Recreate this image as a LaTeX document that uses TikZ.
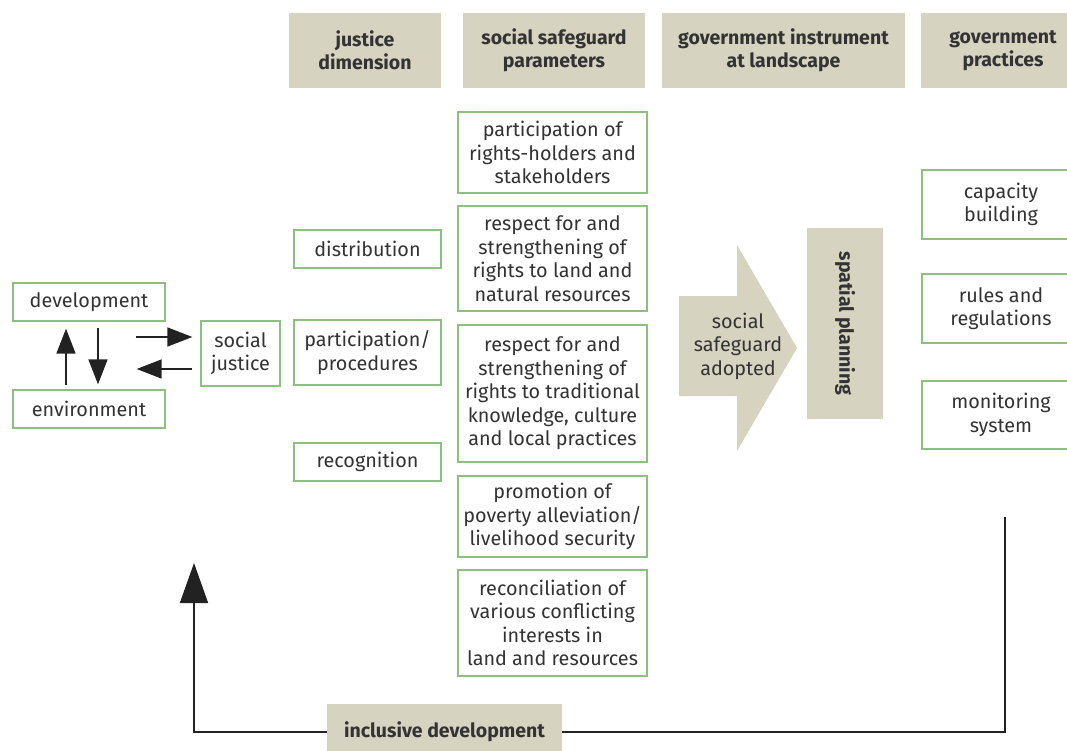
\documentclass[tikz,border=0pt]{standalone}
\usepackage{fontspec}
\setmainfont{Fira Sans}
\usetikzlibrary{arrows.meta}
\definecolor{tan}{HTML}{D6D3C0}
\definecolor{gborder}{HTML}{8FBF80}
\definecolor{txt}{HTML}{333333}
\definecolor{lin}{HTML}{222222}
\tikzset{
  base/.style={inner sep=0pt, align=center, text=txt, font=\fontsize{19.8}{23.5}\selectfont},
  hdr/.style={base, fill=tan, font=\fontsize{19.5}{23.5}\selectfont\bfseries},
  gbox/.style={base, draw=gborder, line width=1.3pt, fill=white},
  arr/.style={draw=lin, line width=1.5pt, -{Triangle[length=25pt,width=19pt]}},
  bigarr/.style={draw=lin, line width=1.5pt, -{Triangle[length=40pt,width=28pt]}},
  fline/.style={draw=lin, line width=1.5pt}
}
\begin{document}
\begin{tikzpicture}[x=1pt,y=-1pt]
\clip (0,0) rectangle (1067,751);
\fill[white] (0,0) rectangle (1067,751);
% headers
\node[hdr, minimum width=152, minimum height=75] (h1) at (365,50.5) {justice\\dimension};
\node[hdr, minimum width=182, minimum height=75] (h2) at (554,50.5) {social safeguard\\parameters};
\node[hdr, minimum width=243, minimum height=75] (h3) at (783.5,50.5) {government instrument\\at landscape};
\node[hdr, minimum width=164, minimum height=75] (h4) at (1003,50.5) {government\\practices};
% left
\node[gbox, minimum width=152, minimum height=38] (dev) at (89,302) {development};
\node[gbox, minimum width=152, minimum height=38] (env) at (89,409) {environment};
\node[gbox, minimum width=79, minimum height=65] (sj) at (240.5,353.5) {social\\justice};
% justice dimension
\node[gbox, minimum width=147, minimum height=38] (dist) at (367.5,249) {distribution};
\node[gbox, minimum width=147, minimum height=65] (part) at (367.5,352.5) {participation/\\procedures};
\node[gbox, minimum width=147, minimum height=38] (reco) at (367.5,462) {recognition};
% safeguards
\node[gbox, minimum width=189, minimum height=81] (s1) at (552.5,152.5) {participation of\\rights-holders and\\stakeholders};
\node[gbox, minimum width=189, minimum height=105] (s2) at (552.5,258.5) {respect for and\\strengthening of\\rights to land and\\natural resources};
\node[gbox, minimum width=189, minimum height=137] (s3) at (552.5,393.5) {respect for and\\strengthening of\\rights to traditional\\knowledge, culture\\and local practices};
\node[gbox, minimum width=189, minimum height=81] (s4) at (552.5,516.5) {promotion of\\poverty alleviation/\\livelihood security};
\node[gbox, minimum width=189, minimum height=106] (s5) at (552.5,623) {reconciliation of\\various conflicting\\interests in\\land and resources};
% big arrow
\fill[tan] (679,296) -- (737,296) -- (737,245) -- (797,348) -- (737,451) -- (737,396) -- (679,396) -- cycle;
\node[base] (adopt) at (738,346) {social\\safeguard\\adopted};
% spatial planning
\node[hdr, minimum width=76, minimum height=191] (sp) at (845,323.5) {};
\node[base, font=\fontsize{19.5}{23.5}\selectfont\bfseries, rotate=-90] (spt) at (sp.center) {spatial planning};
% practices
\node[gbox, minimum width=158, minimum height=69] (p1) at (1001,204.5) {capacity\\building};
\node[gbox, minimum width=158, minimum height=69] (p2) at (1001,308.5) {rules and\\regulations};
\node[gbox, minimum width=158, minimum height=68] (p3) at (1001,415) {monitoring\\system};
% inclusive development
\node[hdr, minimum width=235, minimum height=56] (incl) at (444.5,732) {inclusive development};
% small arrows
\draw[arr] ([shift={(-23,-4)}]env.north) -- ([shift={(-23,7)}]dev.south);
\draw[arr] ([shift={(9,6)}]dev.south) -- ([shift={(9,-5)}]env.north);
\draw[arr] ([shift={(-30,35)}]dev.east) -- ([shift={(-8,-16.5)}]sj.west);
\draw[arr] ([shift={(-8,15.5)}]sj.west) -- ([shift={(-29,-40)}]env.east);
% feedback
\coordinate (fb) at (1005,517);
\coordinate (up) at (194,563);
\draw[fline] (fb) -- (fb |- incl.east) -- (incl.east);
\draw[bigarr] (incl.west) -| (up);
\end{tikzpicture}
\end{document}
